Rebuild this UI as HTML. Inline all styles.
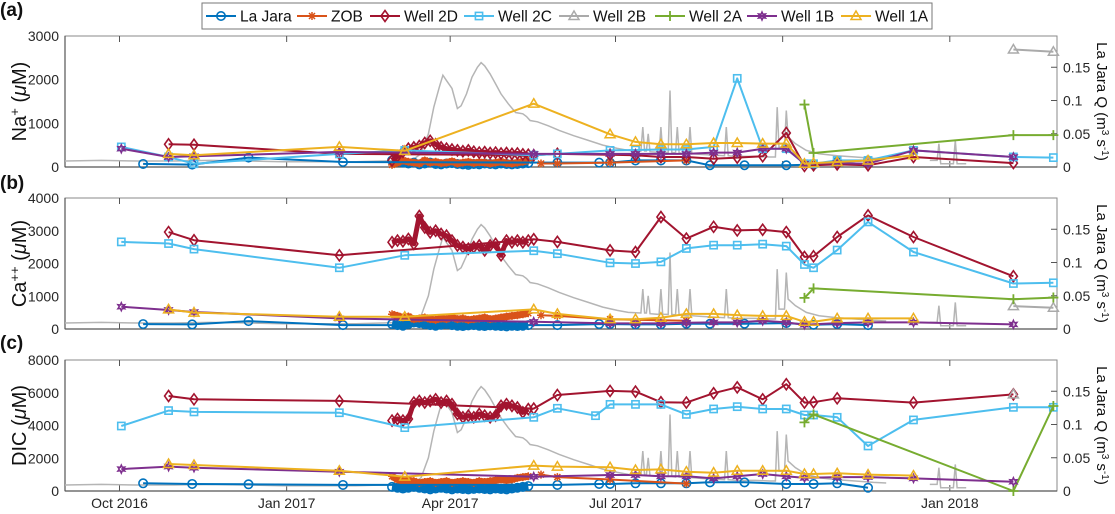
<!DOCTYPE html>
<html><head><meta charset="utf-8">
<style>
html,body{margin:0;padding:0;background:#fff;}
svg{display:block;font-family:"Liberation Sans",Arial,sans-serif;}
</style></head>
<body>
<svg id="chart" width="1115" height="514" viewBox="0 0 1115 514" xmlns="http://www.w3.org/2000/svg">
<g id="layer"></g>
</svg>
<script>
// ---- data (days since 2016-09-01) ----
const xTickDays = [30, 122, 212, 303, 395, 487];
const xTickLabels = ["Oct 2016","Jan 2017","Apr 2017","Jul 2017","Oct 2017","Jan 2018"];
const panelNames = ["na","ca","dic"];
const panelLetters = ["(a)","(b)","(c)"];
const panelMax = [3000, 4000, 8000];
const naTicks = [0,1000,2000,3000];
const caTicks = [0,1000,2000,3000,4000];
const dicTicks = [0,2000,4000,6000,8000];
const qTicks = [0,0.05,0.1,0.15];
const qTickLabels = ["0","0.05","0.1","0.15"];

const denseDays = [180,183,186,189,192,195,198,201,204,207,210,213,216,219,222,225,228,231,234,237,240,243,246,249,252,255];
const well2DDense_na = [150,250,350,420,450,480,550,600,520,450,420,400,380,360,380,350,330,340,320,330,310,320,300,310,290,280];
const well2DDense_ca = [2650,2700,2680,2750,2600,3450,3100,2950,3000,2900,2850,2700,2550,2500,2450,2500,2550,2400,2550,2600,2250,2700,2650,2700,2650,2700];
const well2DDense_dic = [4300,4400,4300,4400,5400,5500,5400,5500,5600,5400,5500,5300,4700,4500,4600,4500,4700,4600,4500,4600,5200,5300,5200,5100,4800,5000];
const zobDense_na = [50,100,150,120,100,80,150,100,120,90,100,130,80,100,120,90,110,100,80,100,120,90,80,100,120,150];
const zobDense_ca = [450,400,350,380,300,320,350,300,280,320,300,350,300,320,280,300,320,350,300,320,350,380,400,420,450,480];
const zobDense_dic = [900,700,600,650,600,500,550,600,500,550,600,500,550,600,550,500,600,550,600,650,700,650,700,800,850,900];
const laJaraDense_na = [150,120,100,80,100,60,80,100,70,60,80,90,70,60,50,70,60,80,70,60,80,70,60,70,80,90];
const laJaraDense_ca = [150,120,100,150,200,180,150,120,100,130,150,120,100,90,110,120,100,90,110,100,90,80,100,90,100,120];
const laJaraDense_dic = [250,200,150,200,250,200,150,100,150,200,150,100,150,120,100,130,150,120,100,150,120,100,150,200,250,300];

const laJaraDays = [43,70,101,153,271,294,300,314,328,342,355,374,397,412,425,442];
const laJara_na = [70,55,215,115,100,100,100,150,150,150,40,40,40,55,115,150];
const laJara_ca = [150,140,240,120,120,150,150,140,140,160,160,160,180,130,150,120];
const laJara_dic = [470,430,410,370,370,430,430,470,470,470,530,530,430,430,470,200];

const zobDays = [262,271,300,342];
const zob_na = [80,80,100,150];
const zob_ca = [420,400,300,250];
const zob_dic = [1000,850,700,450];

const well2DDays = [57,71,151,258,271,292,300,314,328,342,357,370,384,397,407,412,425,442,467,522];
const well2D_na = [520,510,300,270,300,null,280,270,230,230,190,215,245,780,25,40,60,40,230,90];
const well2D_ca = [2960,2710,2250,2740,2660,null,2400,2350,3420,2760,3120,3010,3030,2960,2200,2220,2810,3470,2810,1610];
const well2D_dic = [5800,5600,5500,5030,5860,null,6110,6070,5420,5400,5970,6330,5600,6520,5400,5420,5660,null,5400,5900];

const well2CDays = [31,57,71,151,187,258,271,292,300,314,328,342,357,370,384,397,407,412,425,442,467,522,544];
const well2C_na = [460,230,75,300,380,270,300,null,380,390,400,400,460,2030,420,420,75,75,150,150,380,230,215];
const well2C_ca = [2660,2610,2440,1870,2250,2390,2300,null,2020,2000,2050,2460,2560,2560,2590,2530,1970,1870,2410,3270,2350,1390,1410];
const well2C_dic = [3970,4910,4830,4780,3870,4500,5050,4600,5290,5290,5290,4680,5010,5150,5010,5010,4640,4640,4500,2750,4340,5110,5110];

const well2BDays = [522,544];
const well2B_na = [2690,2640];
const well2B_ca = [700,650];
const well2B_dic = [5900,null];

const well2ADays = [407,412,522,544];
const well2A_na = [1430,320,730,730];
const well2A_ca = [950,1240,910,960];
const well2A_dic = [4190,4680,0,5190];

const well1BDays = [31,57,71,151,258,300,314,328,342,357,370,384,397,407,425,442,467,522];
const well1B_na = [420,230,245,345,300,300,300,300,300,330,330,420,420,75,90,75,380,230];
const well1B_ca = [680,580,520,325,220,170,170,170,190,200,200,250,200,130,180,200,200,140];
const well1B_dic = [1340,1490,1420,1180,875,980,980,900,900,770,900,1040,900,800,850,850,770,570];

const well1ADays = [57,71,151,187,258,271,300,314,328,342,357,370,384,397,407,412,425,442,467];
const well1A_na = [300,270,460,370,1450,null,750,575,520,520,550,550,535,535,75,90,115,150,270];
const well1A_ca = [600,500,375,375,600,460,300,300,345,460,460,425,400,400,220,220,325,325,325];
const well1A_dic = [1650,1590,1240,875,1550,1490,1450,1280,1320,1180,1120,1240,1240,1240,1040,1040,1080,1000,940];

const qDays = [0,20,40,60,80,100,120,140,160,175,185,192,196,200,203,206,208,210,213,216,
  218,221,224,227,229,231,234,237,240,244,248,252,254,256,260,266,272,280,288,296,
  304,310,317,318,319,320,321,322,327,328,329,332,333,334,336,337,338,343,344,345,
  350,356,363,364,365,370,380,388,391,392,393,396,397,398,402,408,415,425,435,445,
  452,null,476,480,481,482,486,489,490,491,496];
const qVals = [0.009,0.010,0.009,0.009,0.010,0.009,0.008,0.008,0.008,0.009,0.010,0.012,0.02,0.05,0.09,0.12,0.138,0.13,0.118,0.088,
  0.092,0.11,0.135,0.15,0.157,0.152,0.14,0.125,0.11,0.095,0.082,0.08,0.076,0.07,0.068,0.062,0.055,0.047,0.04,0.033,
  0.028,0.025,0.024,0.06,0.024,0.024,0.05,0.023,0.022,0.06,0.022,0.022,0.115,0.022,0.021,0.06,0.021,0.02,0.06,0.02,
  0.019,0.018,0.017,0.06,0.017,0.016,0.016,0.015,0.015,0.09,0.03,0.03,0.085,0.045,0.035,0.025,0.02,0.017,0.015,0.013,
  0.012,null,0.01,0.01,0.035,0.005,0.005,0.005,0.04,0.005,0.005];

// ---- layout ----
const X0 = 65, X1 = 1057, DAYSPAN = 546;
const panelTop = [36, 198, 360], PH = 131;
const QMAX = 0.197;
function xS(d){ return X0 + d/DAYSPAN*(X1-X0); }
function yS(p,v){ return panelTop[p] + PH - v/panelMax[p]*PH; }
function yQ(p,q){ return panelTop[p] + PH - q/QMAX*PH; }

const NS = "http://www.w3.org/2000/svg";
const layer = document.getElementById('layer');
function mk(tag, attrs, parent){
  const e = document.createElementNS(NS, tag);
  for (const k in attrs) e.setAttribute(k, attrs[k]);
  (parent||layer).appendChild(e);
  return e;
}
const C = {lj:"#0072BD", zob:"#D95319", w2d:"#A2142F", w2c:"#4DBEEE", w2b:"#AAAAAA", w2a:"#77AC30", w1b:"#7E2F8E", w1a:"#EDB120"};

function marker(g, type, x, y, col){
  let e;
  const s = 4.2;
  if (type==='o') e = mk('circle',{cx:x,cy:y,r:s,fill:'none',stroke:col,'stroke-width':1.6},g);
  else if (type==='d') e = mk('path',{d:`M${x} ${y-5.5}L${x+4} ${y}L${x} ${y+5.5}L${x-4} ${y}Z`,fill:'none',stroke:col,'stroke-width':1.6},g);
  else if (type==='s') e = mk('rect',{x:x-3.6,y:y-3.6,width:7.2,height:7.2,fill:'none',stroke:col,'stroke-width':1.6},g);
  else if (type==='^') e = mk('path',{d:`M${x} ${y-5}L${x+5} ${y+3.5}L${x-5} ${y+3.5}Z`,fill:'none',stroke:col,'stroke-width':1.5},g);
  else if (type==='+') e = mk('path',{d:`M${x-5} ${y}H${x+5}M${x} ${y-5}V${y+5}`,stroke:col,'stroke-width':1.8},g);
  else if (type==='*') e = mk('path',{d:`M${x-4} ${y}H${x+4}M${x} ${y-4}V${y+4}M${x-3} ${y-3}L${x+3} ${y+3}M${x-3} ${y+3}L${x+3} ${y-3}`,stroke:col,'stroke-width':1.5},g);
  else if (type==='h'){
    let d=''; for(let i=0;i<12;i++){const a=-Math.PI/2+i*Math.PI/6; const r=i%2?2:4; d+=(i?'L':'M')+(x+r*Math.cos(a)).toFixed(1)+' '+(y+r*Math.sin(a)).toFixed(1);} 
    e = mk('path',{d:d+'Z',fill:'none',stroke:col,'stroke-width':1.5},g);
  }
  return e;
}

function drawSeries(p, name, days, vals, col, mtype, lw){
  const g = mk('g',{});
  
  
  let d='';
  days.forEach((dd,i)=>{ if(vals[i]===null||vals[i]===undefined) return; d += (d?'L':'M')+xS(dd).toFixed(1)+' '+yS(p,vals[i]).toFixed(1); });
  mk('path',{d:d,fill:'none',stroke:col,'stroke-width':lw||2,'stroke-linejoin':'round'},g);
  days.forEach((dd,i)=>{ if(vals[i]===null||vals[i]===undefined) return; marker(g,mtype,xS(dd),yS(p,vals[i]),col); });
}

function drawQ(p){
  const g = mk('g',{});
  
  
  let d=''; let pen=false;
  qDays.forEach((dd,i)=>{
    if(dd===null||qVals[i]===null){pen=false;return;}
    d += (pen?'L':'M')+xS(dd).toFixed(1)+' '+yQ(p,qVals[i]).toFixed(1); pen=true;
  });
  mk('path',{d:d,fill:'none',stroke:'#b5b5b5','stroke-width':1.5},g);
}

const dataSets = {
  dense2D:[well2DDense_na,well2DDense_ca,well2DDense_dic],
  denseZob:[zobDense_na,zobDense_ca,zobDense_dic],
  denseLJ:[laJaraDense_na,laJaraDense_ca,laJaraDense_dic],
  lj:[laJara_na,laJara_ca,laJara_dic], zob:[zob_na,zob_ca,zob_dic],
  w2d:[well2D_na,well2D_ca,well2D_dic], w2c:[well2C_na,well2C_ca,well2C_dic],
  w2b:[well2B_na,well2B_ca,well2B_dic], w2a:[well2A_na,well2A_ca,well2A_dic],
  w1b:[well1B_na,well1B_ca,well1B_dic], w1a:[well1A_na,well1A_ca,well1A_dic]
};
const leftTicks = [naTicks, caTicks, dicTicks];
const yTitles = [["Na","+"],["Ca","++"],["DIC",""]];

for (let p=0;p<3;p++){
  const top = panelTop[p], bot = top+PH;
  const ax = mk('g',{});
  
  
  mk('rect',{x:X0,y:top,width:X1-X0,height:PH,fill:'#fff',stroke:'#8a8a8a','stroke-width':1},ax);
  mk('line',{x1:X0,y1:bot,x2:X1,y2:bot,stroke:'#555','stroke-width':1.2},ax);
  mk('line',{x1:X0,y1:top,x2:X0,y2:bot,stroke:'#555','stroke-width':1.2},ax);
  xTickDays.forEach(dd=>{
    mk('line',{x1:xS(dd),y1:top,x2:xS(dd),y2:top+6,stroke:'#555','stroke-width':1},ax);
    mk('line',{x1:xS(dd),y1:bot,x2:xS(dd),y2:bot-6,stroke:'#555','stroke-width':1},ax);
  });
  leftTicks[p].forEach(v=>{
    const t = mk('text',{x:X0-6,y:yS(p,v)+5,'text-anchor':'end','font-size':14,fill:'#262626'},ax);
    t.textContent = String(v);
    
    
  });
  qTicks.forEach((q,i)=>{
    mk('line',{x1:X1-6,y1:yQ(p,q),x2:X1,y2:yQ(p,q),stroke:'#555','stroke-width':1},ax);
    const t = mk('text',{x:X1+6,y:yQ(p,q)+5,'font-size':14,fill:'#262626'},ax);
    t.textContent = qTickLabels[i];
    
    
  });
  const pl = mk('text',{x:0,y:[16,189,349][p],'font-size':19,'font-weight':'bold',fill:'#111'});
  pl.textContent = panelLetters[p];
  
  
  const cy = top+PH/2;
  const yt = mk('text',{x:0,y:0,'font-size':20,fill:'#111','text-anchor':'middle',transform:`translate(26 ${cy}) rotate(-90)`});
  
  
  const t1 = mk('tspan',{},yt); t1.textContent = yTitles[p][0];
  if (yTitles[p][1]){ const t2 = mk('tspan',{'baseline-shift':'super','font-size':13},yt); t2.textContent = yTitles[p][1]; }
  const t3 = mk('tspan',{},yt); t3.textContent = ' (';
  const t4 = mk('tspan',{'font-style':'italic'},yt); t4.textContent = 'μ';
  const t5 = mk('tspan',{},yt); t5.textContent = 'M)';
  const rt = mk('text',{x:0,y:0,'font-size':15,fill:'#111','text-anchor':'middle',transform:`translate(1097 ${cy}) rotate(90)`});
  
  
  const r1 = mk('tspan',{},rt); r1.textContent='La Jara Q (m';
  const r2 = mk('tspan',{'baseline-shift':'super','font-size':10},rt); r2.textContent='3';
  const r3 = mk('tspan',{},rt); r3.textContent=' s';
  const r4 = mk('tspan',{'baseline-shift':'super','font-size':10},rt); r4.textContent='-1';
  const r5 = mk('tspan',{},rt); r5.textContent=')';

  drawQ(p);
  drawSeries(p,'la-jara-dense',denseDays,dataSets.denseLJ[p],C.lj,'o',7);
  drawSeries(p,'zob-dense',denseDays,dataSets.denseZob[p],C.zob,'*',7);
  drawSeries(p,'well-2d-dense',denseDays,dataSets.dense2D[p],C.w2d,'d',5);
  drawSeries(p,'la-jara',laJaraDays,dataSets.lj[p],C.lj,'o');
  drawSeries(p,'zob',zobDays,dataSets.zob[p],C.zob,'*');
  drawSeries(p,'well-2d',well2DDays,dataSets.w2d[p],C.w2d,'d');
  drawSeries(p,'well-2c',well2CDays,dataSets.w2c[p],C.w2c,'s');
  drawSeries(p,'well-2b',well2BDays,dataSets.w2b[p],C.w2b,'^');
  drawSeries(p,'well-2a',well2ADays,dataSets.w2a[p],C.w2a,'+');
  drawSeries(p,'well-1b',well1BDays,dataSets.w1b[p],C.w1b,'h');
  drawSeries(p,'well-1a',well1ADays,dataSets.w1a[p],C.w1a,'^');
}
xTickDays.forEach((dd,i)=>{
  const t = mk('text',{x:xS(dd),y:508,'text-anchor':'middle','font-size':14,fill:'#262626'});
  t.textContent = xTickLabels[i];
  
  
});

const legendNames = ["La Jara","ZOB","Well 2D","Well 2C","Well 2B","Well 2A","Well 1B","Well 1A"];
const legendCols = [C.lj,C.zob,C.w2d,C.w2c,C.w2b,C.w2a,C.w1b,C.w1a];
const legendMarks = ['o','*','d','s','^','+','h','^'];
const legendLineX = [206,297,370,464,559,655,747,841];
const lg = mk('g',{});


mk('rect',{x:202,y:3,width:730,height:26,fill:'#fff',stroke:'#777','stroke-width':1},lg);
legendNames.forEach((n,i)=>{
  const e = mk('g',{},lg);
  
  
  const lx = legendLineX[i];
  mk('line',{x1:lx,y1:16,x2:lx+30,y2:16,stroke:legendCols[i],'stroke-width':2},e);
  marker(e,legendMarks[i],lx+15,16,legendCols[i]);
  const t = mk('text',{x:lx+34,y:21.5,'font-size':15.5,fill:'#111'},e);
  t.textContent = n;
});
</script>
</body></html>
